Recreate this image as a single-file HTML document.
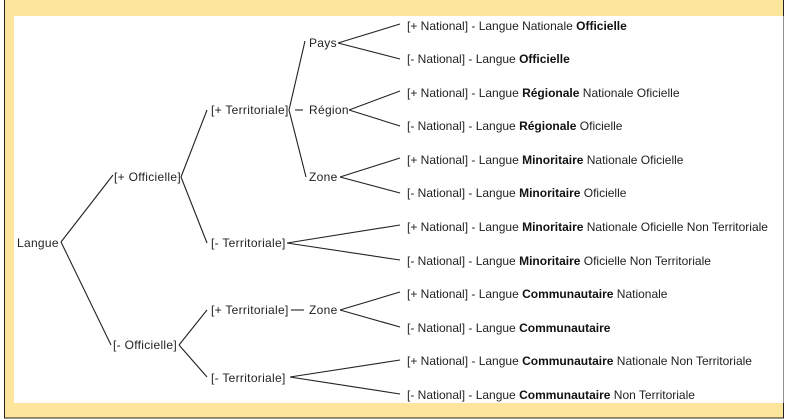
<!DOCTYPE html>
<html><head><meta charset="utf-8"><style>
html,body{margin:0;padding:0;background:#fff;}
svg{display:block;}
text{font-family:"Liberation Sans",sans-serif;font-size:12px;fill:#222;}
.n{letter-spacing:0.3px;}
.b{font-weight:bold;fill:#111;}
</style></head><body>
<svg width="785" height="419" viewBox="0 0 785 419">
<rect x="0" y="0" width="785" height="419" fill="#fff"/>
<rect x="4.5" y="-2" width="779" height="420" fill="#fde59c" stroke="#222" stroke-width="1"/>
<rect x="14" y="16" width="769.5" height="387" fill="#fff"/>
<g stroke="#222" stroke-width="1.1" fill="none">
<line x1="61" y1="242" x2="113" y2="175"/>
<line x1="61" y1="242" x2="111" y2="345"/>
<line x1="181" y1="177" x2="207" y2="110"/>
<line x1="181" y1="177" x2="207" y2="243"/>
<line x1="289" y1="110" x2="305" y2="41"/>
<line x1="295" y1="110" x2="303" y2="110"/>
<line x1="289" y1="110" x2="306" y2="177"/>
<line x1="338" y1="43" x2="400" y2="24"/><line x1="338" y1="43" x2="400" y2="59"/>
<line x1="349" y1="110" x2="400" y2="91"/><line x1="349" y1="110" x2="400" y2="126"/>
<line x1="340" y1="177" x2="400" y2="158"/><line x1="340" y1="177" x2="400" y2="193"/>
<line x1="287" y1="243" x2="400" y2="225"/><line x1="287" y1="243" x2="400" y2="260"/>
<line x1="179" y1="345" x2="207" y2="310"/><line x1="179" y1="345" x2="207" y2="377"/>
<line x1="291" y1="310" x2="304" y2="310"/>
<line x1="340" y1="310" x2="400" y2="292"/><line x1="340" y1="310" x2="400" y2="327"/>
<line x1="290" y1="377" x2="400" y2="360"/><line x1="290" y1="377" x2="400" y2="394"/>
</g>
<g dominant-baseline="central">
<text class="n" x="17" y="243">Langue</text>
<text class="n" x="114" y="177">[+ Officielle]</text>
<text class="n" x="113" y="345">[- Officielle]</text>
<text class="n" x="211" y="110">[+ Territoriale]</text>
<text class="n" x="211" y="243">[- Territoriale]</text>
<text class="n" x="211" y="310">[+ Territoriale]</text>
<text class="n" x="211" y="378">[- Territoriale]</text>
<text class="n" x="309" y="43">Pays</text>
<text class="n" x="309" y="110">Région</text>
<text class="n" x="309" y="177">Zone</text>
<text class="n" x="309" y="310">Zone</text>
<text x="407" y="26">[+ National] - Langue Nationale <tspan class="b">Officielle</tspan></text>
<text x="407" y="59">[- National] - Langue <tspan class="b">Officielle</tspan></text>
<text x="407" y="93">[+ National] - Langue <tspan class="b">Régionale</tspan> Nationale Oficielle</text>
<text x="407" y="126">[- National] - Langue <tspan class="b">Régionale</tspan> Oficielle</text>
<text x="407" y="160">[+ National] - Langue <tspan class="b">Minoritaire</tspan> Nationale Oficielle</text>
<text x="407" y="193">[- National] - Langue <tspan class="b">Minoritaire</tspan> Oficielle</text>
<text x="407" y="227">[+ National] - Langue <tspan class="b">Minoritaire</tspan> Nationale Oficielle Non Territoriale</text>
<text x="407" y="261">[- National] - Langue <tspan class="b">Minoritaire</tspan> Oficielle Non Territoriale</text>
<text x="407" y="294">[+ National] - Langue <tspan class="b">Communautaire</tspan> Nationale</text>
<text x="407" y="328">[- National] - Langue <tspan class="b">Communautaire</tspan></text>
<text x="407" y="361">[+ National] - Langue <tspan class="b">Communautaire</tspan> Nationale Non Territoriale</text>
<text x="407" y="395">[- National] - Langue <tspan class="b">Communautaire</tspan> Non Territoriale</text>
</g>
</svg>
</body></html>
